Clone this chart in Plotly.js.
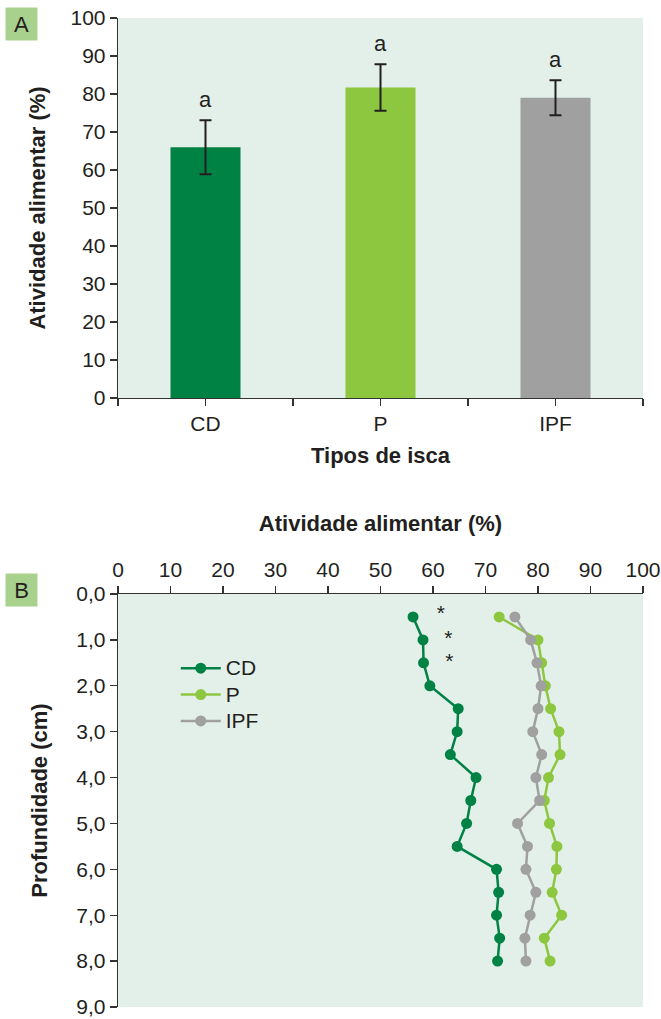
<!DOCTYPE html>
<html>
<head>
<meta charset="utf-8">
<script src="https://cdn.plot.ly/plotly-3.0.1.min.js"></script>
<style>html,body{margin:0;padding:0;background:#fff;}#chart{width:661px;height:1019px;}</style>
</head>
<body>
<div id="chart"></div>
<script>
// Panel A data
const baitTypes = ['CD', 'P', 'IPF'];
const meanActivity = [66.0, 81.7, 79.0];
const errActivity = [7.1, 6.1, 4.6];
const sigLetters = ['a', 'a', 'a'];

// Panel B data
const depths = [0.5, 1.0, 1.5, 2.0, 2.5, 3.0, 3.5, 4.0, 4.5, 5.0, 5.5, 6.0, 6.5, 7.0, 7.5, 8.0];
const cdProfile = [56.2, 58.1, 58.2, 59.4, 64.8, 64.6, 63.3, 68.2, 67.2, 66.4, 64.6, 72.1, 72.5, 72.1, 72.7, 72.3];
const pProfile = [72.6, 80.0, 80.7, 81.4, 82.4, 84.0, 84.2, 82.0, 81.2, 82.2, 83.6, 83.5, 82.7, 84.5, 81.2, 82.3];
const ipfProfile = [75.6, 78.6, 79.8, 80.6, 80.0, 79.0, 80.7, 79.6, 80.3, 76.1, 78.0, 77.7, 79.6, 78.5, 77.5, 77.7];
const starDepths = [0.45, 1.0, 1.5];
const starX = [61.5, 62.9, 63.1];
const depthTicks = [0, 1, 2, 3, 4, 5, 6, 7, 8, 9];

const colors = {CD: '#008244', P: '#8dc63f', IPF: '#a0a0a0'};
const FONT = 'Liberation Sans, Arial, sans-serif';
const txt = '#231f20';

const idx = baitTypes.map((c, i) => i);
const halfTicks = [];
const halfText = [];
for (let i = 0; i <= baitTypes.length * 2; i++) {
  const v = -0.5 + i * 0.5;
  halfTicks.push(v);
  halfText.push(i % 2 === 1 ? baitTypes[(i - 1) / 2] : '');
}

const legName = n => '<span style="font-size:21px">' + n + '</span>';

const traces = [
  {
    type: 'bar', x: idx, y: meanActivity, width: 0.4,
    marker: {color: baitTypes.map(c => colors[c])},
    error_y: {type: 'data', array: errActivity, visible: true, color: txt, thickness: 2, width: 6},
    xaxis: 'x', yaxis: 'y', showlegend: false, hoverinfo: 'skip'
  },
  {
    type: 'scatter', mode: 'lines+markers', name: legName('CD'), x: cdProfile, y: depths,
    line: {color: colors.CD, width: 2.5}, marker: {color: colors.CD, size: 11},
    xaxis: 'x2', yaxis: 'y2'
  },
  {
    type: 'scatter', mode: 'lines+markers', name: legName('P'), x: pProfile, y: depths,
    line: {color: colors.P, width: 2.5}, marker: {color: colors.P, size: 11},
    xaxis: 'x2', yaxis: 'y2'
  },
  {
    type: 'scatter', mode: 'lines+markers', name: legName('IPF'), x: ipfProfile, y: depths,
    line: {color: colors.IPF, width: 2.5}, marker: {color: colors.IPF, size: 11},
    xaxis: 'x2', yaxis: 'y2'
  },
  {
    type: 'scatter', mode: 'text', x: starX, y: starDepths, text: starDepths.map(() => '*'),
    textfont: {family: FONT, size: 21, color: txt}, textposition: 'middle center',
    xaxis: 'x2', yaxis: 'y2', showlegend: false, hoverinfo: 'skip'
  }
];

const letterAnn = baitTypes.map((c, i) => ({
  x: idx[i], y: meanActivity[i] + errActivity[i] + 5.5, xref: 'x', yref: 'y',
  text: sigLetters[i], showarrow: false, font: {family: FONT, size: 22, color: txt}
}));

const axisCommon = {
  showline: true, linecolor: '#333', linewidth: 1.3, ticks: 'outside', ticklen: 7,
  tickcolor: '#333', tickwidth: 1.3, showgrid: false, zeroline: false,
  ticklabeloverflow: 'allow',
  tickfont: {family: FONT, size: 21, color: txt}
};
const titleFont = {family: FONT, size: 22, color: txt, weight: 'bold'};

const layout = {
  width: 661, height: 1019,
  margin: {l: 118, r: 18, t: 18, b: 12},
  paper_bgcolor: '#ffffff', plot_bgcolor: '#e3f0e9',
  separators: ',.',
  showlegend: true,
  legend: {
    x: 0.11, y: 0.361, xanchor: 'left', yanchor: 'top',
    bgcolor: 'rgba(0,0,0,0)', font: {family: FONT, size: 18, color: txt},
    itemwidth: 40, tracegroupgap: 0
  },
  xaxis: Object.assign({}, axisCommon, {
    domain: [0, 1], anchor: 'y', range: [-0.5, 2.5],
    tickmode: 'array', tickvals: halfTicks, ticktext: halfText,
    title: {text: 'Tipos de isca', font: titleFont, standoff: 13}
  }),
  yaxis: Object.assign({}, axisCommon, {
    domain: [0.6158, 1], anchor: 'x', range: [0, 100], dtick: 10, tickformat: 'd',
    title: {text: 'Atividade alimentar (%)', font: titleFont, standoff: 18}
  }),
  xaxis2: Object.assign({}, axisCommon, {
    domain: [0, 1], anchor: 'y2', side: 'top', range: [0, 100], dtick: 10, tickformat: 'd',
    title: {text: 'Atividade alimentar (%)', font: titleFont, standoff: 20}
  }),
  yaxis2: Object.assign({}, axisCommon, {
    domain: [0, 0.4176], anchor: 'x2', range: [9, 0], tickmode: 'array', tickvals: depthTicks, tickformat: '.1f',
    title: {text: 'Profundidade (cm)', font: titleFont, standoff: 22}
  }),
  annotations: letterAnn.concat([
    {x: -0.215, y: 1.011, xref: 'paper', yref: 'paper', xanchor: 'left', yanchor: 'top',
     text: 'A', showarrow: false, bgcolor: '#a9d18e', width: 29, height: 30,
     font: {family: FONT, size: 22, color: txt}},
    {x: -0.215, y: 0.4385, xref: 'paper', yref: 'paper', xanchor: 'left', yanchor: 'top',
     text: 'B', showarrow: false, bgcolor: '#a9d18e', width: 29, height: 30,
     font: {family: FONT, size: 22, color: txt}}
  ])
};

Plotly.newPlot('chart', traces, layout, {displayModeBar: false, staticPlot: true});
</script>
</body>
</html>
